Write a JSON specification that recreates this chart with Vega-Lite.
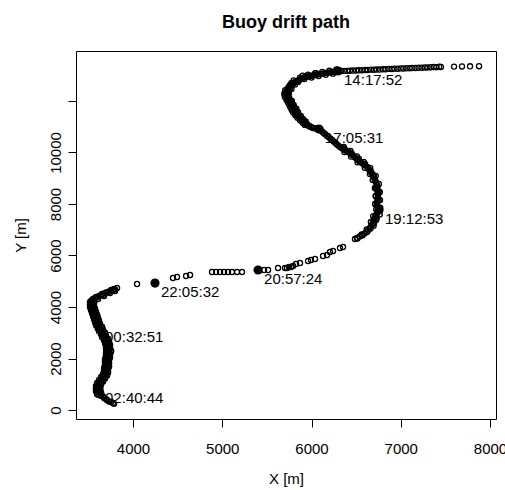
{
  "$schema": "https://vega.github.io/schema/vega-lite/v6.json",
  "width": 420,
  "height": 368,
  "autosize": {"type": "none"},
  "padding": {"left": 76, "top": 51, "right": 9, "bottom": 71},
  "title": {"text": "Buoy drift path", "fontSize": 18, "fontWeight": "bold", "font": "Liberation Sans", "color": "black", "anchor": "middle", "frame": "group", "baseline": "alphabetic", "offset": 5},
  "config": {
    "view": {"stroke": "black", "strokeWidth": 1},
    "font": "Liberation Sans",
    "axis": {"domain": false, "grid": false, "format": "d", "tickColor": "black", "tickSize": 8, "tickWidth": 1, "labelFontSize": 15, "labelColor": "black", "labelFont": "Liberation Sans", "titleFontSize": 15, "titleFontWeight": "normal", "titleColor": "black", "titleFont": "Liberation Sans", "labelFlush": false, "labelOverlap": false}
  },
  "datasets": {
    "pts": [
      {"x":7877,"y":13350},{"x":7776,"y":13345},{"x":7686,"y":13340},{"x":7597,"y":13335},
      {"x":7450,"y":13320},{"x":7430,"y":13330},{"x":7400,"y":13310},{"x":7370,"y":13320},{"x":7335,"y":13310},{"x":7300,"y":13300},{"x":7270,"y":13300},{"x":7235,"y":13290},{"x":7200,"y":13290},{"x":7165,"y":13280},{"x":7130,"y":13280},{"x":7100,"y":13270},{"x":7065,"y":13270},{"x":7030,"y":13260},{"x":7000,"y":13265},{"x":6965,"y":13250},{"x":6930,"y":13255},{"x":6900,"y":13240},{"x":6865,"y":13245},{"x":6830,"y":13230},{"x":6800,"y":13230},{"x":6765,"y":13220},{"x":6730,"y":13220},{"x":6700,"y":13210},{"x":6665,"y":13215},{"x":6630,"y":13200},{"x":6600,"y":13200},{"x":6565,"y":13195},{"x":6530,"y":13190},{"x":6500,"y":13185},{"x":6465,"y":13180},{"x":6430,"y":13175},{"x":6400,"y":13170},{"x":6365,"y":13170},{"x":6330,"y":13165},
      {"x":6275,"y":13150},{"x":6253,"y":13137},{"x":6230,"y":13124},{"x":6208,"y":13111},{"x":6185,"y":13098},{"x":6163,"y":13085},{"x":6140,"y":13072},{"x":6118,"y":13060},{"x":6095,"y":13047},
      {"x":6074,"y":13032},{"x":6053,"y":13018},{"x":6032,"y":13003},{"x":6011,"y":12988},{"x":5990,"y":12974},{"x":5969,"y":12959},{"x":5948,"y":12945},{"x":5927,"y":12930},
      {"x":5908,"y":12898},{"x":5890,"y":12866},{"x":5871,"y":12833},{"x":5852,"y":12801},{"x":5834,"y":12769},{"x":5815,"y":12736},
      {"x":5799,"y":12690},{"x":5784,"y":12643},{"x":5768,"y":12596},{"x":5753,"y":12550},{"x":5737,"y":12503},
      {"x":5732,"y":12449},{"x":5728,"y":12394},{"x":5723,"y":12340},{"x":5719,"y":12285},{"x":5714,"y":12231},
      {"x":5723,"y":12177},{"x":5732,"y":12123},{"x":5741,"y":12068},{"x":5750,"y":12014},{"x":5759,"y":11960},
      {"x":5767,"y":11904},{"x":5775,"y":11849},{"x":5783,"y":11793},{"x":5791,"y":11738},{"x":5799,"y":11682},{"x":5807,"y":11627},{"x":5815,"y":11571},
      {"x":5826,"y":11524},{"x":5837,"y":11478},{"x":5848,"y":11431},{"x":5860,"y":11385},{"x":5871,"y":11338},
      {"x":5884,"y":11293},{"x":5897,"y":11248},{"x":5910,"y":11203},{"x":5924,"y":11157},{"x":5937,"y":11112},{"x":5950,"y":11067},
      {"x":5967,"y":11038},{"x":5984,"y":11009},{"x":6000,"y":10979},{"x":6017,"y":10950},{"x":6039,"y":10937},{"x":6062,"y":10924},
      {"x":5760,"y":12480},{"x":5745,"y":12300},{"x":5745,"y":12150},{"x":5780,"y":12000},{"x":5800,"y":11850},{"x":5830,"y":11700},{"x":5850,"y":11560},{"x":5880,"y":11420},{"x":5905,"y":11300},{"x":5935,"y":11200},{"x":5800,"y":12800},{"x":5900,"y":12980},{"x":6050,"y":13080},{"x":5760,"y":12620},
      {"x":6280,"y":13223},{"x":6240,"y":13060},{"x":6200,"y":13177},{"x":6160,"y":13014},{"x":6120,"y":13131},{"x":6080,"y":12967},{"x":6040,"y":13079},{"x":6000,"y":12911},{"x":5960,"y":13023},{"x":5920,"y":12848},{"x":5870,"y":12900},{"x":5850,"y":12740},
      {"x":5775,"y":12700},{"x":5815,"y":12640},{"x":5750,"y":12560},{"x":5775,"y":12460},{"x":5705,"y":12420},{"x":5745,"y":12380},{"x":5700,"y":12330},{"x":5740,"y":12250},{"x":5695,"y":12260},{"x":5735,"y":12200},
      {"x":5702,"y":12150},{"x":5752,"y":12100},{"x":5719,"y":12050},{"x":5769,"y":12000},{"x":5735,"y":11950},{"x":5785,"y":11900},{"x":5750,"y":11850},{"x":5800,"y":11800},{"x":5764,"y":11750},{"x":5814,"y":11700},{"x":5779,"y":11650},{"x":5829,"y":11600},{"x":5795,"y":11550},{"x":5845,"y":11500},{"x":5818,"y":11450},{"x":5868,"y":11400},{"x":5843,"y":11350},{"x":5893,"y":11300},{"x":5871,"y":11250},{"x":5921,"y":11200},{"x":5901,"y":11150},{"x":5951,"y":11100},{"x":5925,"y":11070},{"x":5975,"y":11020},
      {"x":6102,"y":10858},{"x":6121,"y":10804},{"x":6139,"y":10751},{"x":6157,"y":10698},{"x":6175,"y":10644},{"x":6194,"y":10591},{"x":6212,"y":10537},{"x":6230,"y":10484},
      {"x":6248,"y":10430},{"x":6266,"y":10375},{"x":6283,"y":10321},{"x":6301,"y":10266},{"x":6319,"y":10212},
      {"x":6338,"y":10173},{"x":6356,"y":10134},{"x":6375,"y":10095},{"x":6394,"y":10057},{"x":6412,"y":10018},{"x":6431,"y":9979},
      {"x":6449,"y":9925},{"x":6467,"y":9871},{"x":6485,"y":9816},{"x":6503,"y":9762},{"x":6521,"y":9708},
      {"x":6541,"y":9654},{"x":6561,"y":9599},{"x":6582,"y":9545},{"x":6602,"y":9490},{"x":6622,"y":9436},
      {"x":6635,"y":9374},{"x":6649,"y":9312},{"x":6662,"y":9249},{"x":6676,"y":9187},{"x":6689,"y":9125},
      {"x":6698,"y":9047},{"x":6707,"y":8970},{"x":6716,"y":8892},{"x":6725,"y":8815},{"x":6734,"y":8737},
      {"x":6736,"y":8659},{"x":6738,"y":8581},{"x":6741,"y":8504},{"x":6743,"y":8426},{"x":6745,"y":8348},
      {"x":6743,"y":8270},{"x":6741,"y":8193},{"x":6738,"y":8115},{"x":6736,"y":8037},{"x":6734,"y":7960},
      {"x":6741,"y":7895},{"x":6749,"y":7831},
      {"x":6720,"y":8600},{"x":6760,"y":8450},{"x":6720,"y":8300},{"x":6760,"y":8150},{"x":6715,"y":8000},{"x":6700,"y":9100},{"x":6660,"y":9300},{"x":6600,"y":9550},{"x":6530,"y":9760},{"x":6450,"y":9960},{"x":6370,"y":10150},
      {"x":6362,"y":10211},{"x":6369,"y":10018},{"x":6436,"y":10056},{"x":6443,"y":9840},{"x":6509,"y":9847},{"x":6516,"y":9623},{"x":6586,"y":9630},{"x":6597,"y":9405},{"x":6657,"y":9401},{"x":6654,"y":9160},
      {"x":6719,"y":9086},{"x":6686,"y":8931},{"x":6755,"y":8776},{"x":6710,"y":8620},{"x":6765,"y":8465},{"x":6719,"y":8309},{"x":6767,"y":8155},{"x":6712,"y":7998},{"x":6770,"y":7860},{"x":6725,"y":7800},
      {"x":6745,"y":7698},{"x":6733,"y":7630},{"x":6722,"y":7562},{"x":6711,"y":7494},
      {"x":6703,"y":7417},{"x":6695,"y":7339},{"x":6686,"y":7262},{"x":6678,"y":7184},
      {"x":6664,"y":7116},{"x":6650,"y":7048},{"x":6636,"y":6980},{"x":6622,"y":6912},
      {"x":6594,"y":6854},{"x":6566,"y":6796},{"x":6538,"y":6737},{"x":6510,"y":6679},{"x":6487,"y":6640},
      {"x":6730,"y":7450},{"x":6700,"y":7250},{"x":6660,"y":7050},
      {"x":6764,"y":7596},{"x":6691,"y":7528},{"x":6724,"y":7378},{"x":6665,"y":7300},{"x":6696,"y":7150},{"x":6618,"y":7014},{"x":6618,"y":6933},{"x":6570,"y":6775},{"x":6562,"y":6816},{"x":6514,"y":6658},
      {"x":6353,"y":6329},{"x":6319,"y":6290},{"x":6241,"y":6174},{"x":6207,"y":6135},{"x":6174,"y":6019},{"x":6129,"y":5980},{"x":6039,"y":5863},{"x":5994,"y":5825},{"x":5961,"y":5786},{"x":5871,"y":5708},{"x":5826,"y":5669},{"x":5793,"y":5592},{"x":5770,"y":5553},{"x":5748,"y":5553},{"x":5725,"y":5514},{"x":5703,"y":5514},{"x":5625,"y":5514},{"x":5513,"y":5436},{"x":5468,"y":5436},
      {"x":5221,"y":5359},{"x":5165,"y":5359},{"x":5109,"y":5359},{"x":5064,"y":5359},{"x":5020,"y":5359},{"x":4975,"y":5359},{"x":4930,"y":5359},{"x":4885,"y":5359},
      {"x":4639,"y":5242},{"x":4594,"y":5203},{"x":4493,"y":5164},{"x":4448,"y":5126},
      {"x":4045,"y":4893},
      {"x":3821,"y":4737},{"x":3787,"y":4698},{"x":3754,"y":4660},{"x":3720,"y":4582},{"x":3686,"y":4543},{"x":3653,"y":4504},{"x":3619,"y":4427},{"x":3586,"y":4388},{"x":3552,"y":4310},{"x":3529,"y":4232},{"x":3798,"y":4621},{"x":3742,"y":4543},{"x":3675,"y":4427},{"x":3608,"y":4310},{"x":3563,"y":4194},
      {"x":3800,"y":4680},{"x":3770,"y":4640},{"x":3735,"y":4600},{"x":3700,"y":4560},{"x":3670,"y":4480},{"x":3640,"y":4460},{"x":3600,"y":4380},{"x":3570,"y":4340},{"x":3540,"y":4260},{"x":3530,"y":4150},{"x":3545,"y":4100},
      {"x":3518,"y":4194},{"x":3563,"y":4135},{"x":3518,"y":4077},{"x":3563,"y":4019},{"x":3529,"y":3961},{"x":3574,"y":3902},{"x":3541,"y":3844},{"x":3585,"y":3786},{"x":3552,"y":3728},{"x":3597,"y":3669},{"x":3563,"y":3611},{"x":3608,"y":3553},{"x":3574,"y":3495},{"x":3619,"y":3436},{"x":3585,"y":3378},{"x":3630,"y":3320},{"x":3608,"y":3262},{"x":3653,"y":3203},{"x":3619,"y":3145},{"x":3664,"y":3087},{"x":3642,"y":3029},{"x":3686,"y":2970},{"x":3653,"y":2912},{"x":3697,"y":2854},{"x":3675,"y":2796},{"x":3720,"y":2737},{"x":3686,"y":2679},{"x":3731,"y":2621},{"x":3697,"y":2563},{"x":3742,"y":2504},{"x":3697,"y":2446},{"x":3742,"y":2388},{"x":3709,"y":2330},{"x":3754,"y":2272},{"x":3697,"y":2213},{"x":3742,"y":2155},{"x":3697,"y":2097},{"x":3742,"y":2039},{"x":3686,"y":1980},{"x":3731,"y":1922},{"x":3686,"y":1864},{"x":3731,"y":1806},{"x":3686,"y":1747},{"x":3731,"y":1689},{"x":3675,"y":1631},{"x":3720,"y":1573},{"x":3675,"y":1514},{"x":3720,"y":1456},{"x":3664,"y":1398},{"x":3709,"y":1340},{"x":3642,"y":1281},{"x":3686,"y":1223},{"x":3619,"y":1165},{"x":3664,"y":1107},{"x":3597,"y":1048},{"x":3642,"y":990},{"x":3585,"y":932},{"x":3630,"y":874},{"x":3585,"y":815},{"x":3630,"y":757},{"x":3597,"y":699},{"x":3642,"y":641},{"x":3619,"y":582},{"x":3664,"y":524},
      {"x":3541,"y":4164},{"x":3518,"y":4106},{"x":3563,"y":4164},
      {"x":3541,"y":4048},{"x":3518,"y":3990},{"x":3563,"y":4048},
      {"x":3552,"y":3932},{"x":3529,"y":3873},{"x":3574,"y":3932},
      {"x":3563,"y":3815},{"x":3541,"y":3757},{"x":3585,"y":3815},
      {"x":3574,"y":3699},{"x":3552,"y":3640},{"x":3597,"y":3699},
      {"x":3585,"y":3582},{"x":3563,"y":3524},{"x":3608,"y":3582},
      {"x":3597,"y":3466},{"x":3574,"y":3407},{"x":3619,"y":3466},
      {"x":3608,"y":3349},{"x":3585,"y":3291},{"x":3630,"y":3349},
      {"x":3630,"y":3233},{"x":3608,"y":3174},{"x":3653,"y":3233},
      {"x":3642,"y":3116},{"x":3619,"y":3058},{"x":3664,"y":3116},
      {"x":3664,"y":3000},{"x":3642,"y":2941},{"x":3686,"y":3000},
      {"x":3675,"y":2883},{"x":3653,"y":2825},{"x":3697,"y":2883},
      {"x":3697,"y":2767},{"x":3675,"y":2708},{"x":3720,"y":2767},
      {"x":3709,"y":2650},{"x":3686,"y":2592},{"x":3731,"y":2650},
      {"x":3720,"y":2534},{"x":3697,"y":2475},{"x":3742,"y":2534},
      {"x":3720,"y":2417},{"x":3697,"y":2359},{"x":3742,"y":2417},
      {"x":3731,"y":2301},{"x":3709,"y":2242},{"x":3754,"y":2301},
      {"x":3720,"y":2184},{"x":3697,"y":2126},{"x":3742,"y":2184},
      {"x":3720,"y":2068},{"x":3697,"y":2009},{"x":3742,"y":2068},
      {"x":3709,"y":1951},{"x":3686,"y":1893},{"x":3731,"y":1951},
      {"x":3709,"y":1835},{"x":3686,"y":1776},{"x":3731,"y":1835},
      {"x":3709,"y":1718},{"x":3686,"y":1660},{"x":3731,"y":1718},
      {"x":3697,"y":1602},{"x":3675,"y":1543},{"x":3720,"y":1602},
      {"x":3697,"y":1485},{"x":3675,"y":1427},{"x":3720,"y":1485},
      {"x":3686,"y":1369},{"x":3664,"y":1310},{"x":3709,"y":1369},
      {"x":3664,"y":1252},{"x":3642,"y":1194},{"x":3686,"y":1252},
      {"x":3642,"y":1136},{"x":3619,"y":1077},{"x":3664,"y":1136},
      {"x":3619,"y":1019},{"x":3597,"y":961},{"x":3642,"y":1019},
      {"x":3608,"y":903},{"x":3585,"y":844},{"x":3630,"y":903},
      {"x":3608,"y":786},{"x":3585,"y":728},{"x":3630,"y":786},
      {"x":3619,"y":670},{"x":3597,"y":611},{"x":3642,"y":670},
      {"x":3642,"y":553},
      {"x":3675,"y":466},{"x":3697,"y":420},{"x":3709,"y":388},{"x":3731,"y":330},{"x":3754,"y":311},{"x":3776,"y":272},{"x":3787,"y":240}
    ],
    "marks": [
      {"x":6297,"y":13163,"t":"14:17:52"},
      {"x":6084,"y":10911,"t":"17:05:31"},
      {"x":6756,"y":7766,"t":"19:12:53"},
      {"x":5401,"y":5436,"t":"20:57:24"},
      {"x":4246,"y":4931,"t":"22:05:32"},
      {"x":3619,"y":3184,"t":"00:32:51"},
      {"x":3619,"y":815,"t":"02:40:44"}
    ]
  },
  "encoding": {
    "x": {"field": "x", "type": "quantitative", "scale": {"domain": [3361, 8067], "nice": false, "zero": false},
          "axis": {"title": "X [m]", "values": [4000, 5000, 6000, 7000, 8000], "labelPadding": 14, "titlePadding": 15}},
    "y": {"field": "y", "type": "quantitative", "scale": {"domain": [-349, 13940], "nice": false, "zero": false},
          "axis": {"title": "Y [m]", "values": [0, 2000, 4000, 6000, 8000, 10000, 12000], "labelExpr": "datum.value == 12000 ? '' : datum.label", "labelAngle": -90, "labelAlign": "center", "labelBaseline": "alphabetic", "labelPadding": 8, "titlePadding": 20}}
  },
  "layer": [
    {"data": {"name": "pts"}, "mark": {"type": "point", "shape": "circle", "filled": false, "stroke": "black", "strokeWidth": 1.3, "size": 26, "opacity": 1}},
    {"data": {"name": "marks"}, "mark": {"type": "circle", "color": "black", "size": 85, "opacity": 1}},
    {"data": {"name": "marks"}, "mark": {"type": "text", "align": "left", "baseline": "top", "dx": 6, "dy": 2, "fontSize": 15, "font": "Liberation Sans", "color": "black"}, "encoding": {"text": {"field": "t"}}}
  ]
}
